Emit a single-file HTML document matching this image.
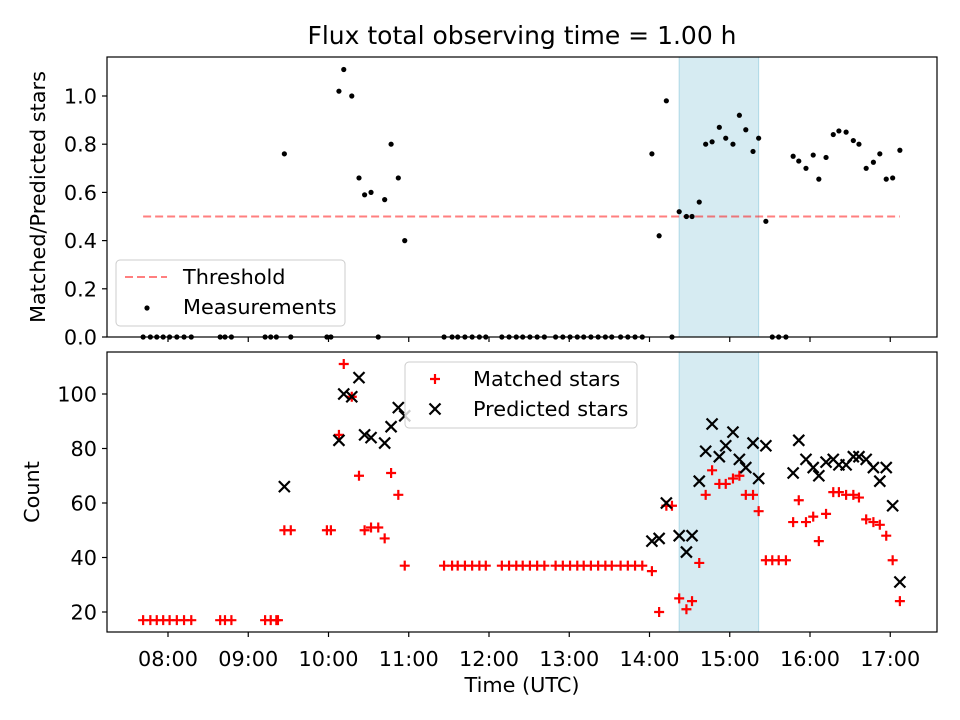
<!DOCTYPE html>
<html><head><meta charset="utf-8"><style>
html,body{margin:0;padding:0;background:#fff;}
svg{display:block;font-family:"DejaVu Sans","Liberation Sans",sans-serif;}
</style></head><body>
<svg id="fig" width="960" height="720" viewBox="0 0 960 720">
<text x="522" y="44" text-anchor="middle" font-size="25">Flux total observing time = 1.00 h</text>
<g id="topPanel"></g>
<g id="botPanel"></g>
<text x="522" y="692" text-anchor="middle" font-size="20.8">Time (UTC)</text>
<text transform="translate(45,197) rotate(-90)" text-anchor="middle" font-size="20.8">Matched/Predicted stars</text>
<text transform="translate(39,492) rotate(-90)" text-anchor="middle" font-size="20.8">Count</text>
</svg>
<script>
const matchedT=[7.69,7.78,7.86,7.94,8.02,8.11,8.20,8.29,8.65,8.71,8.79,9.21,9.28,9.35,9.37,9.45,9.53,9.98,10.03,10.13,10.19,10.29,10.38,10.45,10.53,10.62,10.70,10.78,10.87,10.95,
11.44,11.54,11.61,11.70,11.79,11.88,11.96,12.16,12.25,12.34,12.42,12.51,12.60,12.69,12.83,12.92,13.01,13.10,13.18,13.27,13.36,13.45,13.53,13.64,13.73,13.82,13.91,
14.03,14.12,14.21,14.28,14.37,14.46,14.53,14.62,14.70,14.78,14.87,14.95,15.04,15.12,15.20,15.29,15.36,15.45,15.53,15.61,15.70,15.79,15.86,15.95,16.04,16.11,16.20,16.29,16.36,16.45,16.54,16.61,16.70,16.79,16.87,16.95,17.03,17.12];
const matchedV=[17,17,17,17,17,17,17,17,17,17,17,17,17,17,17,50,50,50,50,85,111,99,70,50,51,51,47,71,63,37,
37,37,37,37,37,37,37,37,37,37,37,37,37,37,37,37,37,37,37,37,37,37,37,37,37,37,37,
35,20,59,59,25,21,24,38,63,72,67,67,69,70,63,63,57,39,39,39,39,53,61,53,55,46,56,64,64,63,63,62,54,53,52,48,39,24];
const predT=[9.45,10.13,10.19,10.29,10.38,10.45,10.53,10.70,10.78,10.87,10.95,14.03,14.12,14.21,14.37,14.46,14.53,14.62,14.70,14.78,14.87,14.95,15.04,15.12,15.20,15.29,15.36,15.45,15.79,15.86,15.95,16.04,16.11,16.20,16.29,16.36,16.45,16.54,16.61,16.70,16.79,16.87,16.95,17.03,17.12];
const predV=[66,83,100,99,106,85,84,82,88,95,92,46,47,60,48,42,48,68,79,89,77,81,86,76,73,82,69,81,71,83,76,73,70,75,76,74,74,77,77,76,73,68,73,59,31];
const ratioT=[7.69,7.78,7.86,7.94,8.02,8.11,8.20,8.29,8.65,8.71,8.79,9.21,9.28,9.35,9.53,9.98,10.03,10.62,
11.44,11.54,11.61,11.70,11.79,11.88,11.96,12.16,12.25,12.34,12.42,12.51,12.60,12.69,12.83,12.92,13.01,13.10,13.18,13.27,13.36,13.45,13.53,13.64,13.73,13.82,13.91,14.28,15.53,15.61,15.70,
9.45,10.13,10.19,10.29,10.38,10.45,10.53,10.70,10.78,10.87,10.95,14.03,14.12,14.21,14.37,14.46,14.53,14.62,14.70,14.78,14.87,14.95,15.04,15.12,15.20,15.29,15.36,15.45,15.79,15.86,15.95,16.04,16.11,16.20,16.29,16.36,16.45,16.54,16.61,16.70,16.79,16.87,16.95,17.03,17.12];
const ratioV=[0,0,0,0,0,0,0,0,0,0,0,0,0,0,0,0,0,0,
0,0,0,0,0,0,0,0,0,0,0,0,0,0,0,0,0,0,0,0,0,0,0,0,0,0,0,0,0,0,0,
0.76,1.02,1.11,1.0,0.66,0.59,0.60,0.57,0.80,0.66,0.40,0.76,0.42,0.98,0.52,0.50,0.50,0.56,0.80,0.81,0.87,0.825,0.80,0.92,0.86,0.77,0.825,0.48,0.75,0.73,0.70,0.755,0.655,0.745,0.84,0.855,0.85,0.815,0.80,0.70,0.725,0.76,0.655,0.66,0.775];
const threshold=0.5, thrStart=7.69, thrEnd=17.12;
const spanStart=14.37, spanEnd=15.36;
const xTicks=[8,9,10,11,12,13,14,15,16,17];
const xTickLabels=["08:00","09:00","10:00","11:00","12:00","13:00","14:00","15:00","16:00","17:00"];
const topTicks=[0,0.2,0.4,0.6,0.8,1.0];
const topTickLabels=["0.0","0.2","0.4","0.6","0.8","1.0"];
const botTicks=[20,40,60,80,100];
const botTickLabels=["20","40","60","80","100"];

const NS="http://www.w3.org/2000/svg";
const L=107,R=937;
const X=h=>168+(h-8)*80.25;
const YT=r=>337-r*241;
const YB=v=>612-(v-20)*2.725;
function mk(p,tag,a){const e=document.createElementNS(NS,tag);for(const k in a)e.setAttribute(k,a[k]);p.appendChild(e);return e;}
const topG=document.getElementById('topPanel'),botG=document.getElementById('botPanel');

function panel(g,y0,y1,ticks,labels,Y,nm){
  const s=mk(g,'rect',{x:X(spanStart),y:y0,width:X(spanEnd)-X(spanStart),height:y1-y0,fill:'#add8e6','fill-opacity':0.5,stroke:'#add8e6'});
  
  
  ticks.forEach((t,i)=>{
    const y=Y(t);
    mk(g,'line',{x1:L-5,x2:L,y1:y,y2:y,stroke:'#000','stroke-width':1.2});
    const tx=mk(g,'text',{x:L-10,y:y+7.5,'text-anchor':'end','font-size':20.8});
    tx.textContent=labels[i];
    
    
  });
  xTicks.forEach((t,i)=>{
    mk(g,'line',{x1:X(t),x2:X(t),y1:y1,y2:y1+5,stroke:'#000','stroke-width':1.2});
  });
}
panel(topG,57,337,topTicks,topTickLabels,YT,'top');
panel(botG,352,632,botTicks,botTickLabels,YB,'bottom');
xTicks.forEach((t,i)=>{
  const tx=mk(botG,'text',{x:X(t),y:666,'text-anchor':'middle','font-size':20.8});
  tx.textContent=xTickLabels[i];
  
  
});
const th=mk(topG,'line',{x1:X(thrStart),x2:X(thrEnd),y1:YT(threshold),y2:YT(threshold),stroke:'#ff0000','stroke-opacity':0.5,'stroke-width':2,'stroke-dasharray':'8,4'});


ratioT.forEach((t,i)=>{
  const c=mk(topG,'circle',{cx:X(t),cy:YT(ratioV[i]),r:2.6,fill:'#000'});
  
  
});
matchedT.forEach((t,i)=>{
  const x=X(t),y=YB(matchedV[i]);
  const p=mk(botG,'path',{d:`M${x-5},${y}H${x+5}M${x},${y-5}V${y+5}`,stroke:'#ff0000','stroke-width':2.2});
  
  
});
predT.forEach((t,i)=>{
  const x=X(t),y=YB(predV[i]);
  const p=mk(botG,'path',{d:`M${x-5.5},${y-5.5}L${x+5.5},${y+5.5}M${x-5.5},${y+5.5}L${x+5.5},${y-5.5}`,stroke:'#000','stroke-width':2.2});
  
  
});
[[topG,57,337],[botG,352,632]].forEach(([g,a,b])=>{
  mk(g,'rect',{x:L,y:a,width:R-L,height:b-a,fill:'none',stroke:'#000','stroke-width':1.2});
});
const lg1=mk(topG,'g',{});


mk(lg1,'rect',{x:116,y:260,width:229,height:66,rx:4,fill:'#fff','fill-opacity':0.8,stroke:'#ccc'});
mk(lg1,'line',{x1:125,x2:167,y1:277,y2:277,stroke:'#ff0000','stroke-opacity':0.5,'stroke-width':2,'stroke-dasharray':'8,4'});
mk(lg1,'circle',{cx:147,cy:308,r:2.6,fill:'#000'});
let t1=mk(lg1,'text',{x:183,y:284,'font-size':20.8});t1.textContent='Threshold';


let t2=mk(lg1,'text',{x:183,y:314,'font-size':20.8});t2.textContent='Measurements';


const lg2=mk(botG,'g',{});


mk(lg2,'rect',{x:405,y:362,width:232,height:66,rx:4,fill:'#fff','fill-opacity':0.8,stroke:'#ccc'});
mk(lg2,'path',{d:'M430,379H440M435,374V384',stroke:'#ff0000','stroke-width':2.2});
mk(lg2,'path',{d:'M429.5,403.5L440.5,414.5M429.5,414.5L440.5,403.5',stroke:'#000','stroke-width':2.2});
let t3=mk(lg2,'text',{x:473,y:386,'font-size':20.8});t3.textContent='Matched stars';


let t4=mk(lg2,'text',{x:473,y:416,'font-size':20.8});t4.textContent='Predicted stars';


</script>
</body></html>
